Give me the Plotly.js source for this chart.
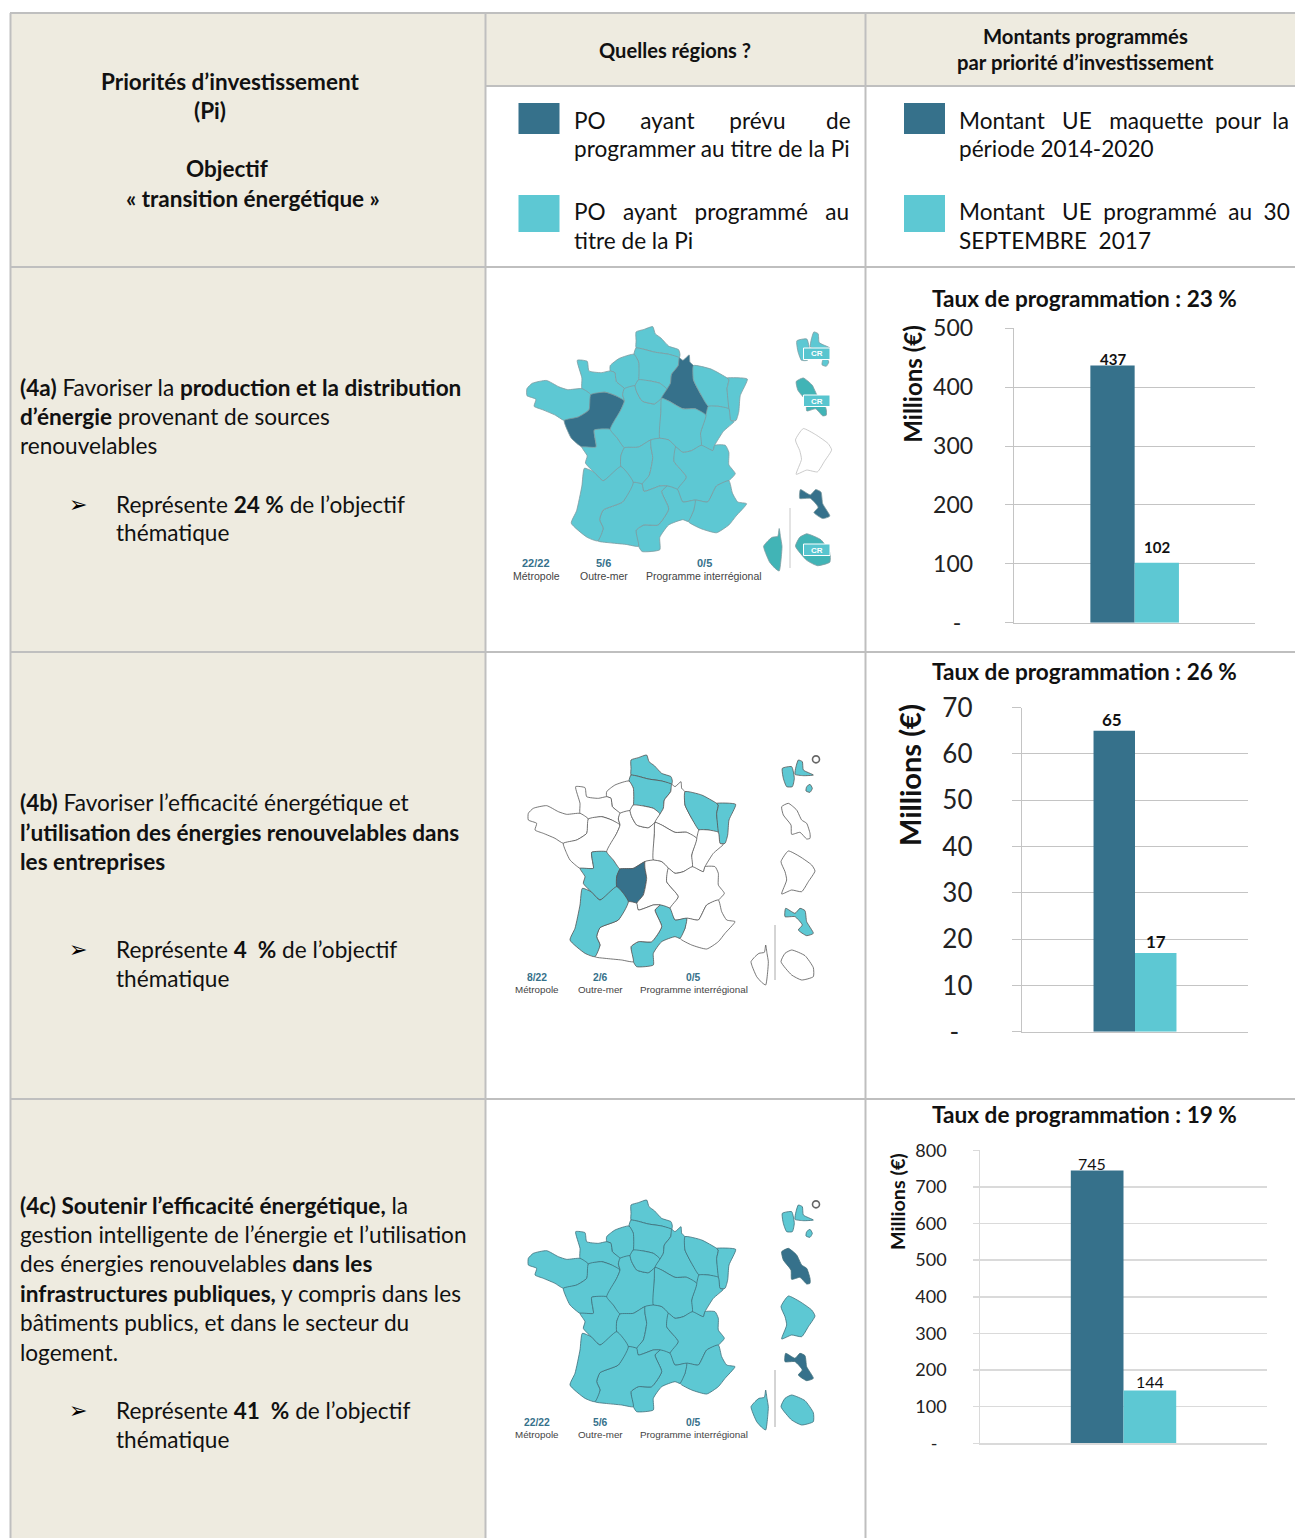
<!DOCTYPE html>
<html lang="fr"><head><meta charset="utf-8">
<script src="https://cdn.plot.ly/plotly-3.0.1.min.js"></script>
<style>html,body{margin:0;padding:0;background:#fff}#g{width:1295px;height:1538px}</style>
</head><body><div id="g"></div>
<script>
// ---------- chart data ----------
const categories = ['(4a)', '(4b)', '(4c)'];
const montantMaquette = [437, 65, 745];
const montantProgramme = [102, 17, 144];
const tauxProgrammation = [23, 26, 19];
const ticks4a = [0, 100, 200, 300, 400, 500];
const ticks4b = [0, 10, 20, 30, 40, 50, 60, 70];
const ticks4c = [0, 100, 200, 300, 400, 500, 600, 700, 800];
const seriesNames = ['Montant UE maquette pour la période 2014-2020', 'Montant UE programmé au 30 SEPTEMBRE 2017'];

// ---------- map outlines (x, y pairs in the map's own grid) ----------
const Nord = [378,45,400,38,425,30,432,50,448,62,470,85,498,95,502,108,500,118,470,108,430,102,400,94,378,90,378,70];
const Picardie = [378,90,400,94,430,102,470,108,500,118,497,140,478,165,475,190,465,207,445,190,415,183,385,180,385,130,372,108];
const HauteNormandie = [305,140,330,120,372,108,385,130,385,180,375,197,345,205,322,185,318,160,305,155];
const BasseNormandie = [212,125,240,128,245,155,280,160,305,155,318,160,322,185,345,205,340,222,345,240,320,225,290,215,250,222,225,205,225,175];
const Bretagne = [70,205,85,190,125,182,160,200,185,208,225,205,250,222,245,265,215,285,175,295,150,280,115,265,90,255,95,235,70,225];
const PaysDeLaLoire = [250,222,290,215,320,225,345,240,335,265,305,320,260,322,262,345,265,370,225,370,195,345,185,325,175,295,215,285,245,265];
const PoitouCharentes = [260,322,305,320,325,345,345,372,335,395,335,425,285,465,258,440,235,415,240,395,225,370,265,370,262,345];
const Centre = [345,240,340,222,345,205,375,197,380,215,395,240,430,248,450,232,448,270,445,345,420,350,385,370,345,372,325,345,305,320,335,265];
const IleDeFrance = [375,197,385,180,415,183,445,190,465,207,450,232,430,248,395,240,380,215];
const Champagne = [465,207,475,190,478,165,497,140,500,118,510,125,528,110,530,130,540,140,540,180,560,220,582,255,575,280,545,262,510,262,470,240,450,232];
const Lorraine = [540,140,590,150,635,175,640,180,635,205,640,262,610,255,582,255,560,220,540,180];
const Alsace = [635,175,692,178,672,225,668,270,660,295,645,295,640,262,635,205,640,180];
const FrancheComte = [575,280,582,255,610,255,640,262,645,295,655,298,625,325,600,365,595,380,562,365,560,330];
const Bourgogne = [450,232,470,240,510,262,545,262,575,280,560,330,562,365,535,380,510,385,490,370,470,350,445,345,448,270];
const Limousin = [345,372,385,370,420,350,420,370,425,400,415,450,395,475,370,470,335,425,335,395];
const Auvergne = [420,350,445,345,470,350,490,370,485,410,520,455,495,490,465,480,445,480,400,495,395,475,415,450,425,400,420,370];
const RhoneAlpes = [490,370,510,385,535,380,562,365,595,380,600,365,630,365,640,385,640,420,658,445,640,465,605,480,580,525,545,520,510,525,495,490,520,455,485,410];
const PACA = [640,465,605,480,580,525,545,520,540,550,525,580,560,600,605,612,640,590,660,565,690,530,665,525,650,500];
const Languedoc = [465,480,495,490,510,525,545,520,540,550,525,580,510,575,470,590,445,625,445,660,395,665,385,650,378,605,400,590,440,590,470,545,450,495];
const MidiPyrenees = [395,475,400,495,445,480,465,480,450,495,470,545,440,590,400,590,378,605,385,650,350,645,300,640,270,635,285,600,275,575,285,548,340,525,370,470];
const Aquitaine = [232,430,258,440,285,465,335,425,370,470,340,525,285,548,275,575,285,600,270,635,240,625,195,585,210,550,225,480];
const Corse = [782,600,786,625,790,650,788,680,782,720,770,712,755,695,742,665,738,650,750,635,762,625,778,622];
const GuadeloupeOuest = [832,70,860,65,868,100,862,125,845,125,835,100];
const GuadeloupeEst = [880,45,892,50,895,75,925,90,895,92,870,88,873,65];
const GuadeloupeSud = [905,125,915,118,922,130,915,142,903,138];
const Martinique = [830,185,850,175,875,195,890,225,905,235,915,265,915,280,905,282,885,262,860,268,858,240,835,210];
const Guyane = [850,318,885,335,920,360,930,378,910,410,890,440,860,435,830,447,845,405,840,380,828,350];
const Mayotte = [842,490,870,505,885,490,900,497,905,530,925,565,905,572,880,555,892,540,870,515,840,515];
const Reunion = [840,625,860,615,900,632,925,668,925,695,890,705,860,690,828,650];

const regionShapes = {Nord,Picardie,HauteNormandie,BasseNormandie,Bretagne,PaysDeLaLoire,PoitouCharentes,Centre,IleDeFrance,Champagne,Lorraine,Alsace,FrancheComte,Bourgogne,Limousin,Auvergne,RhoneAlpes,PACA,Languedoc,MidiPyrenees,Aquitaine,Corse,GuadeloupeOuest,GuadeloupeEst,GuadeloupeSud,Martinique,Guyane,Mayotte,Reunion};

// which region has which status on each map
const prevu4a = ['Champagne','PaysDeLaLoire','Mayotte'];
const prevu4b = ['Limousin'];
const prevu4c = ['Martinique','Mayotte'];
const programme4b = ['Nord','Picardie','Lorraine','Alsace','PoitouCharentes','Aquitaine','Languedoc','GuadeloupeOuest','GuadeloupeEst','GuadeloupeSud','Mayotte'];
const vide4a = ['Guyane'];
const fonce4a = ['Corse','Martinique','Reunion'];
const captions4a = ['22/22','5/6','0/5'];
const captions4b = ['8/22','2/6','0/5'];
const captions4c = ['22/22','5/6','0/5'];

// ---------- styling ----------
const W = 1295, H = 1538;
const DARK = '#36718B', LIGHT = '#5DC8D3', BEIGE = '#EEEBE0', RULE = '#BFBFBF';
const FONT = 'Lato, Carlito, Calibri, sans-serif';
const px = x => x / W, py = y => 1 - y / H;
const NB = '\u00A0';
const BODY = 22.6;

const annotations = [], shapes = [];
function txt(x, y, text, o = {}) {
  const left = !o.anchor;
  annotations.push({xref:'paper', yref:'paper', x:px(left ? x-2 : x), y:py(o.angle ? y : y-1), text, showarrow:false,
    xanchor:o.anchor||'left', yanchor:'middle', align:o.anchor==='center'?'center':'left',
    textangle:o.angle||0, font:{family:o.family||FONT, size:o.size||BODY, color:o.color||'#111'}});
}
function rect(x0,y0,x1,y1,fill,line,w) {
  shapes.push({type:'rect', xref:'paper', yref:'paper', x0:px(x0), x1:px(x1), y0:py(y0), y1:py(y1),
    fillcolor:fill, line:{color:line||fill, width:line?(w||1):0}, layer:'below'});
}
function hline(x0,x1,y,c,w){shapes.push({type:'line',xref:'paper',yref:'paper',x0:px(x0),x1:px(x1),y0:py(y),y1:py(y),line:{color:c||RULE,width:w||2},layer:'below'});}
function vline(x,y0,y1,c,w){shapes.push({type:'line',xref:'paper',yref:'paper',x0:px(x),x1:px(x),y0:py(y0),y1:py(y1),line:{color:c||RULE,width:w||2},layer:'below'});}

// table
rect(10.5,13,485.5,1538,BEIGE);
rect(485.5,13,1295,86,BEIGE);
hline(10,1295,13); hline(485,1295,86); hline(10,1295,267); hline(10,1295,652); hline(10,1295,1099);
vline(10.5,13,1538); vline(485.5,13,1538); vline(865.5,13,1538);

// header
txt(230,82,'<b>Priorités d’investissement</b>',{anchor:'center',size:22.5});
txt(210,111,'<b>(Pi)</b>',{anchor:'center',size:22.5});
txt(227,170,'<b>Objectif</b>',{anchor:'center',size:22.5});
txt(252.5,200,'<b>« transition énergétique »</b>',{anchor:'center',size:22.5});
txt(675,51,'<b>Quelles régions ?</b>',{anchor:'center',size:20.1});
txt(1085,37,'<b>Montants programmés</b>',{anchor:'center',size:20.3});
txt(1085,63,'<b>par priorité d’investissement</b>',{anchor:'center',size:20.3});

// key
[518.5,904].forEach(x=>{rect(x,103,x+41,134,DARK);rect(x,195,x+41,232,LIGHT);});
const sp = n => NB.repeat(n);
txt(574,121,'PO'+sp(6)+'ayant'+sp(6)+'prévu'+sp(7)+'de');
txt(574,150,'programmer au titre de la Pi');
txt(574,212,'PO'+sp(3)+'ayant'+sp(3)+'programmé'+sp(3)+'au');
txt(574,241,'titre de la Pi');
txt(959,121,'Montant'+sp(3)+'UE'+sp(3)+'maquette'+sp(2)+'pour'+sp(2)+'la');
txt(959,150,'période 2014-2020');
txt(959,212,'Montant'+sp(3)+'UE'+sp(2)+'programmé'+sp(2)+'au'+sp(2)+'30');
txt(959,241,'SEPTEMBRE'+sp(2)+'2017');

// left column
const left4a = ['<b>(4a)</b> Favoriser la <b>production et la distribution</b>','<b>d’énergie</b> provenant de sources','renouvelables'];
const left4b = ['<b>(4b)</b> Favoriser l’efficacité énergétique et','<b>l’utilisation des énergies renouvelables dans</b>','<b>les entreprises</b>'];
const left4c = ['<b>(4c) Soutenir l’efficacité énergétique,</b> la','gestion intelligente de l’énergie et l’utilisation','des énergies renouvelables <b>dans les</b>','<b>infrastructures publiques,</b> y compris dans les','bâtiments publics, et dans le secteur du','logement.'];
const rep4a = ['Représente <b>24 %</b> de l’objectif','thématique'];
const rep4b = ['Représente <b>4'+NB+' %</b> de l’objectif','thématique'];
const rep4c = ['Représente <b>41'+NB+' %</b> de l’objectif','thématique'];
function block(lines,ys){lines.forEach((l,i)=>txt(20,ys[i],l));}
function rep(lines,ys){txt(69,ys[0],'➢',{family:'DejaVu Sans',size:22,color:'#000'});lines.forEach((l,i)=>txt(116,ys[i],l));}
block(left4a,[388,417,446]); rep(rep4a,[505,534]);
block(left4b,[803,833,862]); rep(rep4b,[950,979]);
block(left4c,[1206,1235,1264,1294,1323,1353]); rep(rep4c,[1411,1440]);

// ---------- bar charts ----------
const charts = [
 {ticks:ticks4a, dom:[1014.3,1255], yTop:328.3, yBot:622.7, top:500, tlen:8.6, stand:27, size:23, gc:'#C4C4C4', gw:1, tit:[912.7,384,24], titleY:300, zero:'-'+sp(2), lab:[360,548], labSize:15, bold:true, shift:0},
 {ticks:ticks4b, dom:[1022.3,1247.7], yTop:707.7, yBot:1031.7, top:70, tlen:9.6, stand:34, size:26, gc:'#C4C4C4', gw:1, tit:[909,775,29], titleY:672, zero:'-'+sp(2), lab:[720,942], labSize:17, bold:true, shift:2},
 {ticks:ticks4c, dom:[980.3,1266.7], yTop:1150.3, yBot:1443.3, top:800, tlen:6, stand:23, size:18, gc:'#DADADA', gw:1.5, tit:[897,1202,19.8], titleY:1115, zero:'-'+sp(2), lab:[1164,1382], labSize:16, bold:false, shift:5}
];
const data = [];
const layout = {width:W, height:H, margin:{l:0,r:0,t:0,b:0}, paper_bgcolor:'#fff', plot_bgcolor:'rgba(0,0,0,0)',
  showlegend:false, barmode:'group', bargap:0.632, bargroupgap:0, annotations, shapes, font:{family:FONT}, hovermode:false};

charts.forEach((c,i)=>{
  const s = i===0?'':String(i+1);
  [montantMaquette,montantProgramme].forEach((vals,k)=>{
    data.push({type:'bar', x:[categories[i]], y:[vals[i]], name:seriesNames[k], marker:{color:k?LIGHT:DARK}, xaxis:'x'+s, yaxis:'y'+s});
  });
  layout['xaxis'+s] = {domain:[px(c.dom[0]),px(c.dom[1])], anchor:'y'+s, type:'category', showticklabels:false, ticks:'',
    showline:true, linecolor:c.gc, linewidth:Math.max(c.gw,1.5), showgrid:false, fixedrange:true};
  layout['yaxis'+s] = {domain:[py(c.yBot),py(c.yTop)], anchor:'x'+s, range:[0,c.top], tickmode:'array', tickvals:c.ticks,
    ticktext:c.ticks.map(v=>v===0?c.zero:String(v)), ticks:'outside', ticklen:c.tlen, tickcolor:c.gc, tickwidth:c.gw,
    ticklabelstandoff:c.stand, tickfont:{family:FONT,size:c.size,color:'#222'},
    showgrid:true, gridcolor:c.gc, gridwidth:c.gw, zeroline:false, showline:true, linecolor:c.gc, linewidth:1, fixedrange:true};
  txt(c.tit[0],c.tit[1],'<b>Millions (€)</b>',{anchor:'center',angle:-90,size:c.tit[2]});
  txt(1084.5,c.titleY,'<b>Taux de programmation : '+tauxProgrammation[i]+' %</b>',{anchor:'center',size:22.6});
  // value labels
  const mid=(c.dom[0]+c.dom[1])/2, bw=(c.dom[1]-c.dom[0])*(1-0.632)/2;
  [montantMaquette[i],montantProgramme[i]].forEach((v,k)=>{
    txt(k?mid+bw/2:mid-bw/2-c.shift, c.lab[k], c.bold?'<b>'+v+'</b>':String(v), {anchor:'center',size:c.labSize});
  });
});

// ---------- maps ----------
const mapBoxes = [
  {x0:502.2, y0:316, w:371.9, h:276.25, line:'#7E9AA0', lw:0.8},
  {x0:505, y0:745, w:350, h:260, line:'#555', lw:0.8},
  {x0:505, y0:1190, w:350, h:260, line:'#3F6F7A', lw:0.8}
];
const fillFor = [
  n => prevu4a.includes(n)?DARK:vide4a.includes(n)?'#fff':fonce4a.includes(n)?'#41B4B6':LIGHT,
  n => prevu4b.includes(n)?DARK:programme4b.includes(n)?LIGHT:'#fff',
  n => prevu4c.includes(n)?DARK:LIGHT
];
mapBoxes.forEach((m,i)=>{
  const id = i+4;
  layout['xaxis'+id] = {domain:[px(m.x0),px(m.x0+m.w)], range:[0,1050], visible:false, anchor:'y'+id, fixedrange:true};
  layout['yaxis'+id] = {domain:[py(m.y0+m.h),py(m.y0)], range:[780,0], visible:false, anchor:'x'+id, fixedrange:true};
  Object.keys(regionShapes).forEach(name=>{
    const p = regionShapes[name], xs=[], ys=[];
    for(let k=0;k<p.length;k+=2){xs.push(p[k]);ys.push(p[k+1]);}
    xs.push(p[0]);ys.push(p[1]);
    const f = fillFor[i](name);
    const outline = (i===0 && name==='Guyane') ? '#BDBDBD' : m.line;
    data.push({type:'scatter', mode:'lines', x:xs, y:ys, fill:'toself', fillcolor:f, line:{color:outline,width:m.lw,shape:'spline',smoothing:0.5}, name, xaxis:'x'+id, yaxis:'y'+id, hoverinfo:'skip'});
  });
});
// Guadeloupe's small island ring on maps 2 and 3
[5,6].forEach(id=>data.push({type:'scatter',mode:'markers',x:[933],y:[43],marker:{size:7,color:'#fff',line:{color:'#666',width:1.6}},xaxis:'x'+id,yaxis:'y'+id,hoverinfo:'skip'}));

// separators next to Corsica
vline(790,508,568,'#C8C8C8',1); vline(775,925,980,'#AAAAAA',1); vline(775,1370,1427,'#AAAAAA',1);

// CR tags on map 1
const crTags = [[843,354],[843,401],[843,550]];
crTags.forEach(([x,y])=>{
  shapes.push({type:'rect',xref:'paper',yref:'paper',x0:px(803.5),x1:px(830),y0:py(y+5.5),y1:py(y-6),fillcolor:'#58C5CF',line:{color:'#fff',width:1},layer:'above'});
  txt(817,y+1,'<b>CR</b>',{anchor:'center',family:'Liberation Sans',size:8,color:'#fff'});
});

// map captions
const capCols = [[[536,603.7,704],563,576,10.5],[[536.7,600,694],977,989,9.8],[[536.7,600,694],1422,1434,9.8]];
const capLabels = ['Métropole','Outre-mer','Programme interrégional'];
[captions4a,captions4b,captions4c].forEach((cap,i)=>{
  const [xs,y1,y2,sz] = capCols[i];
  cap.forEach((t,k)=>{
    txt(xs[k],y1+1,'<b>'+t+'</b>',{anchor:'center',family:'Liberation Sans',size:sz+0.5,color:DARK});
    txt(xs[k],y2+1,capLabels[k],{anchor:'center',family:'Liberation Sans',size:sz,color:'#444'});
  });
});

Plotly.newPlot('g', data, layout, {displayModeBar:false, staticPlot:true});
</script></body></html>
